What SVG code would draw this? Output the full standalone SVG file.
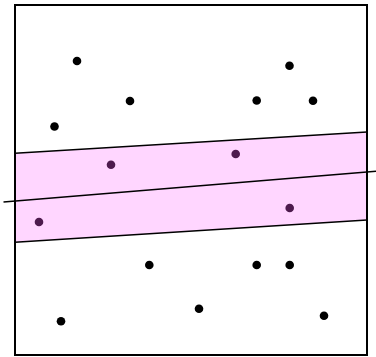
<svg xmlns="http://www.w3.org/2000/svg" width="376" height="357" viewBox="0 0 376 357">
<style>
.frame{fill:none;stroke:#000;stroke-width:2}
.band{fill:#ffd6ff;stroke:none}
.edge{fill:none;stroke:#000;stroke-width:1.6}
.pt{fill:#000}
.in{fill:#4d1a4d}
</style>
<rect width="376" height="357" fill="#fff"/>
<g id="band">
<polygon class="band" points="15,153.3 367,132 367,220 15,242.3"/>
</g>
<g id="connectors">
<line class="edge" x1="15" y1="153.3" x2="367" y2="132"/>
<line class="edge" x1="15" y1="242.3" x2="367" y2="220"/>
<line class="edge" x1="3.5" y1="202" x2="376" y2="171.3"/>
</g>
<g id="frame">
<rect class="frame" x="15" y="5" width="352" height="350"/>
</g>
<g id="points">
<circle class="pt" cx="77" cy="61" r="4.3"/>
<circle class="pt" cx="54.5" cy="126.5" r="4.3"/>
<circle class="pt" cx="130" cy="101" r="4.3"/>
<circle class="pt" cx="289.5" cy="65.7" r="4.3"/>
<circle class="pt" cx="256.7" cy="100.5" r="4.3"/>
<circle class="pt" cx="313" cy="100.7" r="4.3"/>
<circle class="in" cx="111" cy="164.7" r="4.3"/>
<circle class="in" cx="235.7" cy="154" r="4.3"/>
<circle class="in" cx="39" cy="222" r="4.3"/>
<circle class="in" cx="289.7" cy="208" r="4.3"/>
<circle class="pt" cx="149.3" cy="265" r="4.3"/>
<circle class="pt" cx="256.7" cy="265" r="4.3"/>
<circle class="pt" cx="289.7" cy="265" r="4.3"/>
<circle class="pt" cx="199" cy="308.7" r="4.3"/>
<circle class="pt" cx="324" cy="315.7" r="4.3"/>
<circle class="pt" cx="61" cy="321.3" r="4.3"/>
</g>
</svg>
